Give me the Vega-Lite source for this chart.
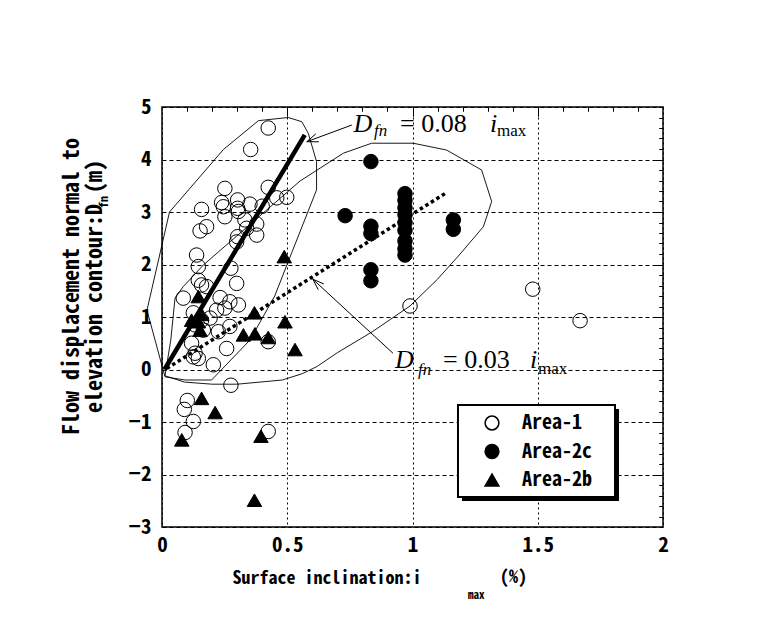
{
  "$schema": "https://vega.github.io/schema/vega-lite/v6.json",
  "width": 501,
  "height": 420,
  "autosize": {"type": "none"},
  "padding": {"left": 162, "top": 107, "right": 95, "bottom": 116},
  "background": "white",
  "config": {
    "view": {"stroke": "black", "strokeWidth": 1.5},
    "axis": {"domain": false, "labelFlush": false, "labelOverlap": false, "labelBound": false}
  },
  "resolve": {"axis": {"x": "independent", "y": "independent"}},
  "datasets": {
    "ann": [
      {"x": 0.764, "y": 4.524, "t": "D", "k": "it"},
      {"x": 0.846, "y": 4.440, "t": "fn", "k": "itsub"},
      {"x": 0.950, "y": 4.524, "t": "= 0.08", "k": "rm"},
      {"x": 1.309, "y": 4.524, "t": "i", "k": "it"},
      {"x": 1.337, "y": 4.448, "t": "max", "k": "rmsub"},
      {"x": 0.930, "y": 0.029, "t": "D", "k": "it"},
      {"x": 1.022, "y": -0.105, "t": "fn", "k": "itsub"},
      {"x": 1.122, "y": 0.029, "t": "= 0.03", "k": "rm"},
      {"x": 1.469, "y": 0.029, "t": "i", "k": "it"},
      {"x": 1.501, "y": -0.086, "t": "max", "k": "rmsub"},
      {"x": 1.222, "y": -4.371, "t": "max", "k": "gsub"},
      {"x": 1.349, "y": -4.06, "t": "(%)", "k": "gnorm"}
    ],
    "legendbox": [
      {"part": "shadow", "x": 1.1976, "x2": 1.8244, "y": -0.752, "y2": -2.505},
      {"part": "box", "x": 1.1816, "x2": 1.8084, "y": -0.676, "y2": -2.4286}
    ]
  },
  "layer": [
    {
      "data": {"values": [
        {"poly": "A", "o": 1, "x": 0.012, "y": -0.14},
        {"poly": "A", "o": 2, "x": -0.06, "y": 1.13},
        {"poly": "A", "o": 3, "x": 0.03, "y": 3.0},
        {"poly": "A", "o": 4, "x": 0.245, "y": 4.19},
        {"poly": "A", "o": 5, "x": 0.385, "y": 4.74},
        {"poly": "A", "o": 6, "x": 0.504, "y": 4.80},
        {"poly": "A", "o": 7, "x": 0.558, "y": 4.72},
        {"poly": "A", "o": 8, "x": 0.584, "y": 4.50},
        {"poly": "A", "o": 9, "x": 0.617, "y": 3.96},
        {"poly": "A", "o": 10, "x": 0.617, "y": 3.42},
        {"poly": "A", "o": 11, "x": 0.52, "y": 2.25},
        {"poly": "A", "o": 12, "x": 0.45, "y": 1.4},
        {"poly": "A", "o": 13, "x": 0.351, "y": 0.56},
        {"poly": "A", "o": 14, "x": 0.198, "y": -0.2},
        {"poly": "A", "o": 15, "x": 0.092, "y": -0.2},
        {"poly": "A", "o": 16, "x": 0.012, "y": -0.14},
        {"poly": "B", "o": 1, "x": 0.012, "y": -0.12},
        {"poly": "B", "o": 2, "x": 0.09, "y": -0.24},
        {"poly": "B", "o": 3, "x": 0.2, "y": -0.28},
        {"poly": "B", "o": 4, "x": 0.3, "y": -0.28},
        {"poly": "B", "o": 5, "x": 0.48, "y": -0.2},
        {"poly": "B", "o": 6, "x": 0.56, "y": -0.08},
        {"poly": "B", "o": 7, "x": 0.62, "y": 0.06},
        {"poly": "B", "o": 8, "x": 0.7, "y": 0.32},
        {"poly": "B", "o": 9, "x": 0.84, "y": 0.72},
        {"poly": "B", "o": 10, "x": 0.99, "y": 1.21},
        {"poly": "B", "o": 11, "x": 1.1, "y": 1.72},
        {"poly": "B", "o": 12, "x": 1.19, "y": 2.2},
        {"poly": "B", "o": 13, "x": 1.283, "y": 2.72},
        {"poly": "B", "o": 14, "x": 1.316, "y": 3.2},
        {"poly": "B", "o": 15, "x": 1.276, "y": 3.8},
        {"poly": "B", "o": 16, "x": 1.136, "y": 4.18},
        {"poly": "B", "o": 17, "x": 1.003, "y": 4.31},
        {"poly": "B", "o": 18, "x": 0.837, "y": 4.31},
        {"poly": "B", "o": 19, "x": 0.724, "y": 4.12},
        {"poly": "B", "o": 20, "x": 0.551, "y": 3.59},
        {"poly": "B", "o": 21, "x": 0.165, "y": 1.99},
        {"poly": "B", "o": 22, "x": 0.085, "y": 1.58},
        {"poly": "B", "o": 23, "x": 0.052, "y": 1.36},
        {"poly": "B", "o": 24, "x": 0.035, "y": 0.56},
        {"poly": "B", "o": 25, "x": 0.012, "y": -0.12}
      ]},
      "mark": {"type": "line", "stroke": "black", "strokeWidth": 0.9, "clip": false},
      "encoding": {
        "x": {"field": "x", "type": "quantitative", "scale": {"domain": [0, 2], "nice": false, "zero": false},
          "axis": {"values": [0, 0.5, 1, 1.5, 2], "format": "~g", "ticks": false, "grid": true, "gridColor": "black", "gridDash": [2, 3], "gridWidth": 1, "gridOpacity": 1,
            "labelFont": "Noto Sans Mono CJK JP, Noto Sans CJK JP, DejaVu Sans Mono", "labelFontSize": 21, "labelFontWeight": "bold", "labelColor": "black", "labelPadding": 7,
            "title": "Surface inclination:i", "titleFont": "Noto Sans Mono CJK JP, Noto Sans CJK JP, DejaVu Sans Mono", "titleFontSize": 18, "titleFontWeight": "bold", "titleColor": "black",
            "titleAlign": "left", "titleBaseline": "alphabetic", "titleX": 70, "titleY": 56}},
        "y": {"field": "y", "type": "quantitative", "scale": {"domain": [-3, 5], "nice": false, "zero": false},
          "axis": {"values": [-3, -2, -1, 0, 1, 2, 3, 4, 5], "format": "d", "ticks": false, "grid": true, "gridColor": "black", "gridDash": [4, 3], "gridWidth": 1, "gridOpacity": 1,
            "labelFont": "Noto Sans Mono CJK JP, Noto Sans CJK JP, DejaVu Sans Mono", "labelFontSize": 21, "labelFontWeight": "bold", "labelColor": "black", "labelPadding": 11,
            "title": ["Flow displacement normal to", "elevation contour:D\u00a0(m)"], "titleFont": "Noto Sans Mono CJK JP, Noto Sans CJK JP, DejaVu Sans Mono", "titleFontSize": 22, "titleFontWeight": "bold", "titleColor": "black",
            "titleAngle": 270, "titleAlign": "center", "titleBaseline": "top", "titleX": -101, "titleY": 179, "titleLineHeight": 23}},
        "detail": {"field": "poly"},
        "order": {"field": "o"}
      }
    },
    {
      "data": {"name": "legendbox"},
      "transform": [{"filter": "datum.part === 'shadow'"}],
      "mark": {"type": "rect", "fill": "black"},
      "encoding": {
        "x": {"field": "x", "type": "quantitative", "axis": null},
        "x2": {"field": "x2"},
        "y": {"field": "y", "type": "quantitative", "axis": null},
        "y2": {"field": "y2"}
      }
    },
    {
      "data": {"name": "legendbox"},
      "transform": [{"filter": "datum.part === 'box'"}],
      "mark": {"type": "rect", "fill": "white", "stroke": "black", "strokeWidth": 2},
      "encoding": {
        "x": {"field": "x", "type": "quantitative", "axis": null},
        "x2": {"field": "x2"},
        "y": {"field": "y", "type": "quantitative", "axis": null},
        "y2": {"field": "y2"}
      }
    },
    {
      "data": {"values": [
        {"area": "Area-1", "x": 0.424, "y": 4.60}, {"area": "Area-1", "x": 0.354, "y": 4.19}, {"area": "Area-1", "x": 0.251, "y": 3.45},
        {"area": "Area-1", "x": 0.424, "y": 3.47}, {"area": "Area-1", "x": 0.498, "y": 3.28}, {"area": "Area-1", "x": 0.458, "y": 3.27},
        {"area": "Area-1", "x": 0.158, "y": 3.05}, {"area": "Area-1", "x": 0.238, "y": 3.18}, {"area": "Area-1", "x": 0.302, "y": 3.23},
        {"area": "Area-1", "x": 0.302, "y": 3.07}, {"area": "Area-1", "x": 0.351, "y": 3.15}, {"area": "Area-1", "x": 0.400, "y": 3.11},
        {"area": "Area-1", "x": 0.245, "y": 3.10}, {"area": "Area-1", "x": 0.251, "y": 2.91}, {"area": "Area-1", "x": 0.305, "y": 3.01},
        {"area": "Area-1", "x": 0.178, "y": 2.72}, {"area": "Area-1", "x": 0.152, "y": 2.64}, {"area": "Area-1", "x": 0.331, "y": 2.85},
        {"area": "Area-1", "x": 0.378, "y": 2.77}, {"area": "Area-1", "x": 0.338, "y": 2.69}, {"area": "Area-1", "x": 0.302, "y": 2.53},
        {"area": "Area-1", "x": 0.378, "y": 2.56}, {"area": "Area-1", "x": 0.298, "y": 2.43}, {"area": "Area-1", "x": 0.138, "y": 2.18},
        {"area": "Area-1", "x": 0.145, "y": 1.96}, {"area": "Area-1", "x": 0.275, "y": 1.93}, {"area": "Area-1", "x": 0.298, "y": 1.64},
        {"area": "Area-1", "x": 0.145, "y": 1.70}, {"area": "Area-1", "x": 0.158, "y": 1.61}, {"area": "Area-1", "x": 0.178, "y": 1.58},
        {"area": "Area-1", "x": 0.085, "y": 1.36}, {"area": "Area-1", "x": 0.232, "y": 1.37}, {"area": "Area-1", "x": 0.305, "y": 1.23},
        {"area": "Area-1", "x": 0.271, "y": 1.29}, {"area": "Area-1", "x": 0.251, "y": 1.17}, {"area": "Area-1", "x": 0.218, "y": 1.13},
        {"area": "Area-1", "x": 0.192, "y": 0.98}, {"area": "Area-1", "x": 0.125, "y": 1.08}, {"area": "Area-1", "x": 0.158, "y": 0.94},
        {"area": "Area-1", "x": 0.132, "y": 0.85}, {"area": "Area-1", "x": 0.225, "y": 0.72}, {"area": "Area-1", "x": 0.271, "y": 0.82},
        {"area": "Area-1", "x": 0.165, "y": 0.75}, {"area": "Area-1", "x": 0.258, "y": 0.40}, {"area": "Area-1", "x": 0.118, "y": 0.50},
        {"area": "Area-1", "x": 0.132, "y": 0.31}, {"area": "Area-1", "x": 0.145, "y": 0.21}, {"area": "Area-1", "x": 0.125, "y": 0.24},
        {"area": "Area-1", "x": 0.205, "y": 0.09}, {"area": "Area-1", "x": 0.424, "y": 0.53}, {"area": "Area-1", "x": 0.275, "y": -0.30},
        {"area": "Area-1", "x": 0.101, "y": -0.59}, {"area": "Area-1", "x": 0.089, "y": -0.76}, {"area": "Area-1", "x": 0.125, "y": -0.99},
        {"area": "Area-1", "x": 0.092, "y": -1.20}, {"area": "Area-1", "x": 0.424, "y": -1.18}, {"area": "Area-1", "x": 0.990, "y": 1.21},
        {"area": "Area-1", "x": 1.480, "y": 1.53}, {"area": "Area-1", "x": 1.669, "y": 0.93},
        {"area": "Area-2c", "x": 0.834, "y": 3.96}, {"area": "Area-2c", "x": 0.731, "y": 2.93}, {"area": "Area-2c", "x": 0.834, "y": 2.73},
        {"area": "Area-2c", "x": 0.834, "y": 2.59}, {"area": "Area-2c", "x": 0.834, "y": 1.90}, {"area": "Area-2c", "x": 0.834, "y": 1.69},
        {"area": "Area-2c", "x": 0.970, "y": 3.35}, {"area": "Area-2c", "x": 0.970, "y": 3.22}, {"area": "Area-2c", "x": 0.970, "y": 3.08},
        {"area": "Area-2c", "x": 0.970, "y": 2.95}, {"area": "Area-2c", "x": 0.970, "y": 2.80}, {"area": "Area-2c", "x": 0.970, "y": 2.65},
        {"area": "Area-2c", "x": 0.970, "y": 2.45}, {"area": "Area-2c", "x": 0.970, "y": 2.30}, {"area": "Area-2c", "x": 0.970, "y": 2.18},
        {"area": "Area-2c", "x": 1.163, "y": 2.85}, {"area": "Area-2c", "x": 1.163, "y": 2.67},
        {"area": "Area-2b", "x": 0.488, "y": 2.15}, {"area": "Area-2b", "x": 0.369, "y": 1.08}, {"area": "Area-2b", "x": 0.491, "y": 0.91},
        {"area": "Area-2b", "x": 0.325, "y": 0.66}, {"area": "Area-2b", "x": 0.371, "y": 0.68}, {"area": "Area-2b", "x": 0.424, "y": 0.61},
        {"area": "Area-2b", "x": 0.531, "y": 0.38}, {"area": "Area-2b", "x": 0.145, "y": 1.39}, {"area": "Area-2b", "x": 0.145, "y": 0.91},
        {"area": "Area-2b", "x": 0.152, "y": 0.75}, {"area": "Area-2b", "x": 0.118, "y": 0.94}, {"area": "Area-2b", "x": 0.158, "y": 1.05},
        {"area": "Area-2b", "x": 0.158, "y": -0.55}, {"area": "Area-2b", "x": 0.212, "y": -0.82}, {"area": "Area-2b", "x": 0.079, "y": -1.34},
        {"area": "Area-2b", "x": 0.395, "y": -1.27}, {"area": "Area-2b", "x": 0.369, "y": -2.49}
      ]},
      "mark": {"type": "point", "stroke": "black", "strokeWidth": 1, "opacity": 1, "size": 210},
      "encoding": {
        "x": {"field": "x", "type": "quantitative", "scale": {"domain": [0, 2], "nice": false, "zero": false},
          "axis": {"values": [0.5, 1, 1.5], "tickSize": -9, "tickColor": "black", "tickWidth": 1, "labels": false, "grid": false, "title": null}},
        "y": {"field": "y", "type": "quantitative", "scale": {"domain": [-3, 5], "nice": false, "zero": false},
          "axis": {"values": [-2, -1, 0, 1, 2, 3, 4], "tickSize": -9, "tickColor": "black", "tickWidth": 1, "labels": false, "grid": false, "title": null}},
        "shape": {"field": "area", "type": "nominal", "scale": {"domain": ["Area-1", "Area-2c", "Area-2b"], "range": ["circle", "circle", "triangle-up"]},
          "legend": {"title": null, "orient": "none", "legendX": 320, "legendY": 306, "padding": 0, "strokeColor": null, "fillColor": null,
            "labelFont": "Noto Sans Mono CJK JP, Noto Sans CJK JP, DejaVu Sans Mono", "labelFontSize": 20, "labelFontWeight": "bold", "labelColor": "black",
            "symbolSize": 190, "rowPadding": 8.5, "symbolOffset": 0, "labelOffset": 20}},
        "fill": {"field": "area", "type": "nominal", "scale": {"domain": ["Area-1", "Area-2c", "Area-2b"], "range": ["transparent", "black", "black"]},
          "legend": {"title": null, "orient": "none", "legendX": 320, "legendY": 306, "padding": 0, "strokeColor": null, "fillColor": null,
            "labelFont": "Noto Sans Mono CJK JP, Noto Sans CJK JP, DejaVu Sans Mono", "labelFontSize": 20, "labelFontWeight": "bold", "labelColor": "black",
            "symbolSize": 190, "rowPadding": 8.5, "symbolOffset": 0, "labelOffset": 20}}
      }
    },
    {
      "data": {"values": [{"x": 0.01, "y": 0}, {"x": 0.57, "y": 4.47}]},
      "mark": {"type": "line", "stroke": "black", "strokeWidth": 4.5},
      "encoding": {
        "x": {"field": "x", "type": "quantitative", "scale": {"domain": [0, 2], "nice": false, "zero": false},
          "axis": {"values": [0.1, 0.2, 0.3, 0.4, 0.6, 0.7, 0.8, 0.9, 1.1, 1.2, 1.3, 1.4, 1.6, 1.7, 1.8, 1.9], "tickSize": -4, "tickColor": "black", "tickWidth": 1, "labels": false, "grid": false, "title": null}},
        "y": {"field": "y", "type": "quantitative", "scale": {"domain": [-3, 5], "nice": false, "zero": false},
          "axis": {"values": [-2.8, -2.6, -2.4, -2.2, -1.8, -1.6, -1.4, -1.2, -0.8, -0.6, -0.4, -0.2, 0.2, 0.4, 0.6, 0.8, 1.2, 1.4, 1.6, 1.8, 2.2, 2.4, 2.6, 2.8, 3.2, 3.4, 3.6, 3.8, 4.2, 4.4, 4.6, 4.8], "tickSize": -4, "tickColor": "black", "tickWidth": 1, "labels": false, "grid": false, "title": null}}
      }
    },
    {
      "data": {"values": [{"x": 0.019, "y": 0.02}, {"x": 1.136, "y": 3.37}]},
      "mark": {"type": "line", "stroke": "black", "strokeWidth": 3.5, "strokeDash": [3.5, 3]},
      "encoding": {
        "x": {"field": "x", "type": "quantitative", "scale": {"domain": [0, 2], "nice": false, "zero": false},
          "axis": {"orient": "top", "values": [0.5, 1, 1.5], "tickSize": -9, "tickColor": "black", "tickWidth": 1, "labels": false, "grid": false, "title": null}},
        "y": {"field": "y", "type": "quantitative", "scale": {"domain": [-3, 5], "nice": false, "zero": false},
          "axis": {"orient": "right", "values": [-2, -1, 0, 1, 2, 3, 4], "tickSize": -9, "tickColor": "black", "tickWidth": 1, "labels": false, "grid": false, "title": null}}
      }
    },
    {
      "data": {"values": [
        {"x": 0.578, "y": 4.339, "x2": 0.758, "y2": 4.657},
        {"x": 0.578, "y": 4.339, "x2": 0.626, "y2": 4.337},
        {"x": 0.578, "y": 4.339, "x2": 0.614, "y2": 4.488},
        {"x": 0.602, "y": 1.72, "x2": 0.922, "y2": 0.31},
        {"x": 0.602, "y": 1.72, "x2": 0.624, "y2": 1.52},
        {"x": 0.602, "y": 1.72, "x2": 0.646, "y2": 1.63}
      ]},
      "mark": {"type": "rule", "stroke": "black", "strokeWidth": 1},
      "encoding": {
        "x": {"field": "x", "type": "quantitative", "scale": {"domain": [0, 2], "nice": false, "zero": false},
          "axis": {"orient": "top", "values": [0.1, 0.2, 0.3, 0.4, 0.6, 0.7, 0.8, 0.9, 1.1, 1.2, 1.3, 1.4, 1.6, 1.7, 1.8, 1.9], "tickSize": -4, "tickColor": "black", "tickWidth": 1, "labels": false, "grid": false, "title": null}},
        "y": {"field": "y", "type": "quantitative", "scale": {"domain": [-3, 5], "nice": false, "zero": false},
          "axis": {"orient": "right", "values": [-2.8, -2.6, -2.4, -2.2, -1.8, -1.6, -1.4, -1.2, -0.8, -0.6, -0.4, -0.2, 0.2, 0.4, 0.6, 0.8, 1.2, 1.4, 1.6, 1.8, 2.2, 2.4, 2.6, 2.8, 3.2, 3.4, 3.6, 3.8, 4.2, 4.4, 4.6, 4.8], "tickSize": -4, "tickColor": "black", "tickWidth": 1, "labels": false, "grid": false, "title": null}},
        "x2": {"field": "x2"},
        "y2": {"field": "y2"}
      }
    },
    {
      "data": {"name": "ann"},
      "transform": [{"filter": "datum.k === 'it'"}],
      "mark": {"type": "text", "align": "left", "baseline": "alphabetic", "font": "Liberation Serif", "fontStyle": "italic", "fontSize": 26, "color": "black"},
      "encoding": {
        "x": {"field": "x", "type": "quantitative", "axis": null},
        "y": {"field": "y", "type": "quantitative", "axis": null},
        "text": {"field": "t"}
      }
    },
    {
      "data": {"name": "ann"},
      "transform": [{"filter": "datum.k === 'itsub'"}],
      "mark": {"type": "text", "align": "left", "baseline": "alphabetic", "font": "Liberation Serif", "fontStyle": "italic", "fontSize": 17, "color": "black"},
      "encoding": {
        "x": {"field": "x", "type": "quantitative", "axis": null},
        "y": {"field": "y", "type": "quantitative", "axis": null},
        "text": {"field": "t"}
      }
    },
    {
      "data": {"name": "ann"},
      "transform": [{"filter": "datum.k === 'rm'"}],
      "mark": {"type": "text", "align": "left", "baseline": "alphabetic", "font": "Liberation Serif", "fontSize": 26, "color": "black"},
      "encoding": {
        "x": {"field": "x", "type": "quantitative", "axis": null},
        "y": {"field": "y", "type": "quantitative", "axis": null},
        "text": {"field": "t"}
      }
    },
    {
      "data": {"name": "ann"},
      "transform": [{"filter": "datum.k === 'rmsub'"}],
      "mark": {"type": "text", "align": "left", "baseline": "alphabetic", "font": "Liberation Serif", "fontSize": 17, "color": "black"},
      "encoding": {
        "x": {"field": "x", "type": "quantitative", "axis": null},
        "y": {"field": "y", "type": "quantitative", "axis": null},
        "text": {"field": "t"}
      }
    },
    {
      "data": {"name": "ann"},
      "transform": [{"filter": "datum.k === 'gsub'"}],
      "mark": {"type": "text", "align": "left", "baseline": "alphabetic", "font": "Noto Sans Mono CJK JP, Noto Sans CJK JP, DejaVu Sans Mono", "fontWeight": "bold", "fontSize": 11, "color": "black"},
      "encoding": {
        "x": {"field": "x", "type": "quantitative", "axis": null},
        "y": {"field": "y", "type": "quantitative", "axis": null},
        "text": {"field": "t"}
      }
    },
    {
      "data": {"name": "ann"},
      "transform": [{"filter": "datum.k === 'gnorm'"}],
      "mark": {"type": "text", "align": "left", "baseline": "alphabetic", "font": "Noto Sans Mono CJK JP, Noto Sans CJK JP, DejaVu Sans Mono", "fontWeight": "bold", "fontSize": 18, "color": "black"},
      "encoding": {
        "x": {"field": "x", "type": "quantitative", "axis": null},
        "y": {"field": "y", "type": "quantitative", "axis": null},
        "text": {"field": "t"}
      }
    },
    {
      "data": {"values": [{"x": -0.231, "y": 3.19, "t": "fn"}]},
      "mark": {"type": "text", "align": "center", "baseline": "middle", "angle": 270, "font": "Noto Sans Mono CJK JP, Noto Sans CJK JP, DejaVu Sans Mono", "fontWeight": "bold", "fontSize": 12, "color": "black"},
      "encoding": {
        "x": {"field": "x", "type": "quantitative", "axis": null},
        "y": {"field": "y", "type": "quantitative", "axis": null},
        "text": {"field": "t"}
      }
    }
  ]
}
